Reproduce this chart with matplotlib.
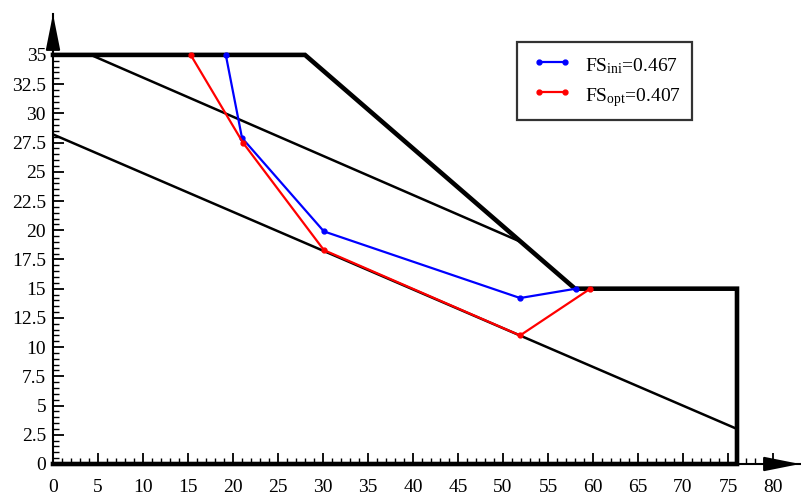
import matplotlib
matplotlib.use("Agg")
import matplotlib.pyplot as plt
from matplotlib.ticker import FuncFormatter
from matplotlib.legend_handler import HandlerLine2D

plt.rcParams['font.family'] = ['Liberation Serif', 'DejaVu Serif']
plt.rcParams['mathtext.fontset'] = 'custom'
plt.rcParams['mathtext.rm'] = 'Liberation Serif'
plt.rcParams['mathtext.it'] = 'Liberation Serif:italic'

# Slope geometry
boundary_x = [0, 28, 58, 76, 76, 0]
boundary_y = [35, 35, 15, 15, 0, 0]
line1_x = [4.2, 52]
line1_y = [35, 19]
line2_x = [0, 76]
line2_y = [28.2, 3.0]

# Slip surfaces
ini_x = [19.2, 21.0, 30.1, 51.9, 58.1]
ini_y = [35, 27.9, 19.9, 14.2, 15]
opt_x = [15.3, 21.1, 30.1, 51.9, 59.7]
opt_y = [35, 27.5, 18.3, 11.0, 15]
labels = [r'FS$_{\rm ini}$=0.467', r'FS$_{\rm opt}$=0.407']

x_major = list(range(0, 81, 5))
x_minor = [v for v in range(0, 81) if v % 5]
y_major = [v * 2.5 for v in range(0, 15)]
y_minor = [v * 0.5 for v in range(0, 71) if v % 5]

fig = plt.figure(figsize=(8.01, 5.03), dpi=100)
ax = fig.add_axes([53/801, 1-464/503, (800-53)/801, (464-14)/503])
xmax, ymax = 83.0, 38.5

ax.plot(boundary_x, boundary_y, color='black', lw=3.3, solid_joinstyle='miter', clip_on=False, zorder=3)
ax.plot(line1_x, line1_y, color='black', lw=1.8, zorder=2)
ax.plot(line2_x, line2_y, color='black', lw=1.8, zorder=2)
l1, = ax.plot(ini_x, ini_y, color='blue', lw=1.6, marker='o', ms=3.5, label=labels[0], zorder=4)
l2, = ax.plot(opt_x, opt_y, color='red', lw=1.6, marker='o', ms=3.5, label=labels[1], zorder=4)

for s in ['top', 'right']:
    ax.spines[s].set_visible(False)
for s in ['left', 'bottom']:
    ax.spines[s].set_linewidth(1.5)

ax.set_xticks(x_major)
ax.set_yticks(y_major)
ax.set_xticks(x_minor, minor=True)
ax.set_yticks(y_minor, minor=True)
ax.set_xlim(0, xmax)
ax.set_ylim(0, ymax)
ax.yaxis.set_major_formatter(FuncFormatter(lambda v, p: ('%g' % v)))

ax.tick_params(which='major', direction='in', length=8, width=1.3, labelsize=14)
ax.tick_params(axis='x', which='major', pad=11)
ax.tick_params(axis='y', which='major', pad=5)
ax.tick_params(which='minor', direction='in', length=4, width=1.0)

# axis arrows
arrow_style = '-|>,head_length=1.1,head_width=0.22'
ax.annotate('', xy=(xmax, 0), xytext=(xmax - 3, 0), xycoords='data',
            arrowprops=dict(arrowstyle=arrow_style, color='black', lw=1.5,
                            mutation_scale=20, shrinkA=0, shrinkB=0), annotation_clip=False)
ax.annotate('', xy=(0, ymax), xytext=(0, ymax - 3), xycoords='data',
            arrowprops=dict(arrowstyle=arrow_style, color='black', lw=1.5,
                            mutation_scale=20, shrinkA=0, shrinkB=0), annotation_clip=False)

hm = {l1: HandlerLine2D(numpoints=2, marker_pad=0.6), l2: HandlerLine2D(numpoints=2, marker_pad=0.6)}
leg = ax.legend(loc='upper left', bbox_to_anchor=((517-53)/747, (464-42)/450), fontsize=14,
                frameon=True, fancybox=False, edgecolor='black', handlelength=2.5,
                handleheight=1.5, borderpad=0.55, labelspacing=0.35, handletextpad=0.45,
                borderaxespad=0, handler_map=hm)
leg.get_frame().set_linewidth(1.6)

fig.savefig('out.png', dpi=100)
